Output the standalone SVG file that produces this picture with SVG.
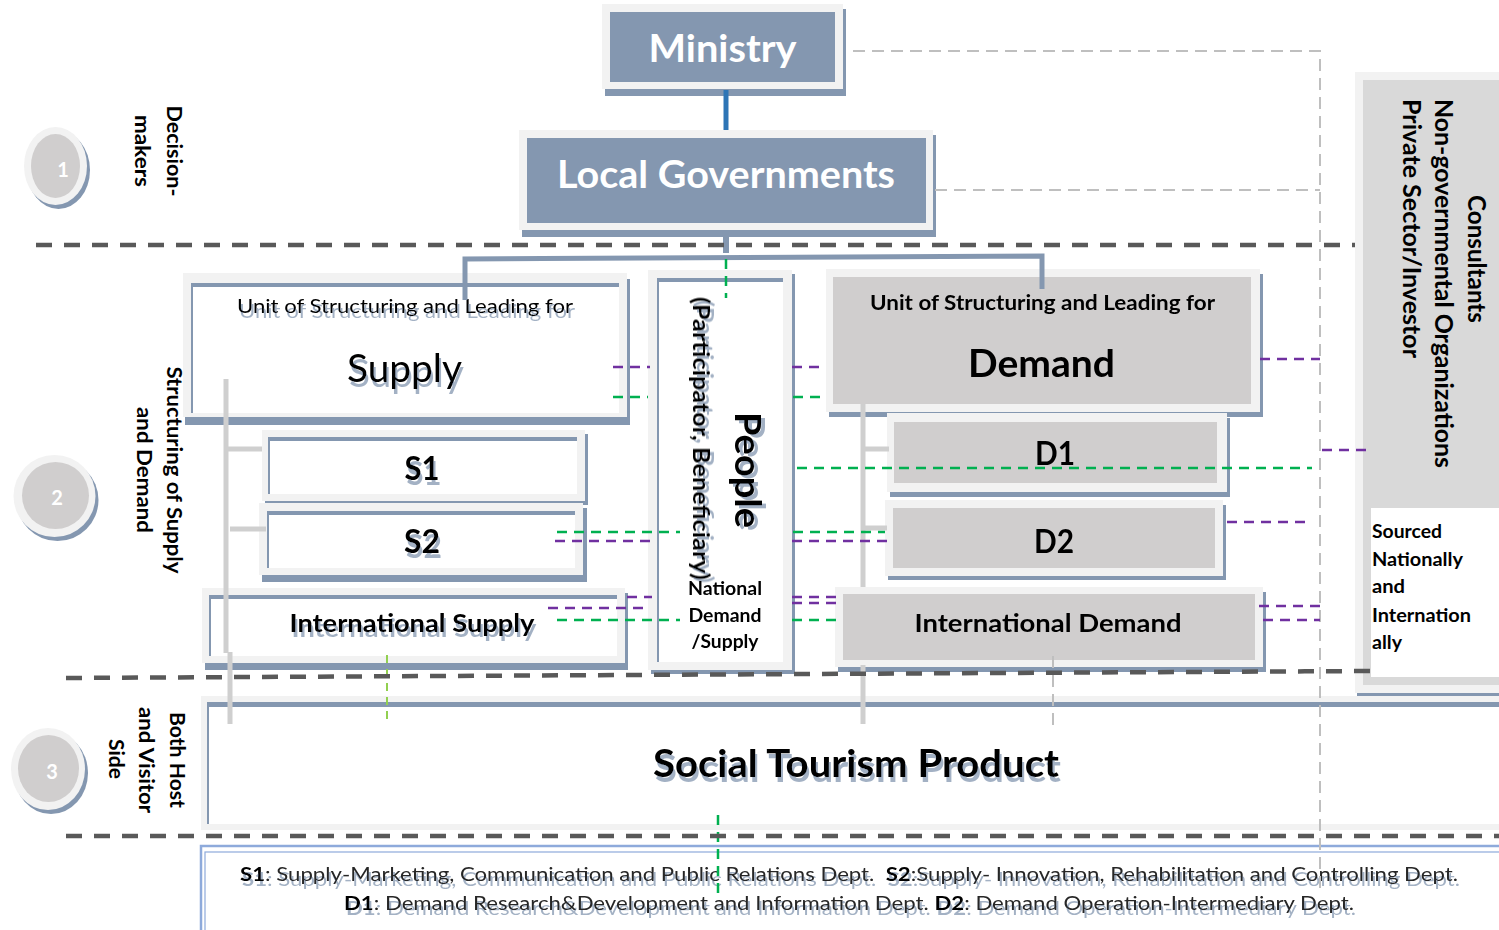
<svg xmlns="http://www.w3.org/2000/svg" width="1499" height="930" viewBox="0 0 1499 930">
<defs>
<style>
text{font-family:Lato,"Liberation Sans",sans-serif;fill:#000}
.b{font-weight:bold}
.c{text-anchor:middle}
.fr{fill:#f2f2f2}
.sd{fill:#8497b0}
.wt{fill:#fff}
.gy{fill:#d0cece}
.sep{stroke:#595959;stroke-width:4.5;stroke-dasharray:16 12;fill:none}
.lgd{stroke:#bfbfbf;stroke-width:2;stroke-dasharray:12 7;fill:none}
.gd{stroke:#00b050;stroke-width:2.5;stroke-dasharray:10 7;fill:none}
.pd{stroke:#7030a0;stroke-width:2.5;stroke-dasharray:10 7;fill:none}
.lgn{stroke:#92d050;stroke-width:2;stroke-dasharray:8 6;fill:none}
.gl{stroke:#cfcfcf;stroke-width:5;fill:none}
.num{fill:#fff;font-weight:bold;font-size:20px;text-anchor:middle}
</style>
<filter id="ts" x="-10%" y="-40%" width="120%" height="200%">
<feDropShadow dx="2" dy="5" stdDeviation="0.7" flood-color="#8497b0" flood-opacity="0.75"/>
</filter>
<filter id="tsr" x="-40%" y="-10%" width="200%" height="120%">
<feDropShadow dx="4" dy="3" stdDeviation="0.7" flood-color="#8497b0" flood-opacity="0.75"/>
</filter>
</defs>
<rect width="1499" height="930" fill="#fff"/>

<!-- side circles and labels -->
<g id="circle1">
<ellipse cx="58.5" cy="170" rx="31.5" ry="39" class="sd"/>
<ellipse cx="55.5" cy="166" rx="31.5" ry="39" class="fr"/>
<ellipse cx="55.5" cy="166" rx="24.5" ry="32" class="gy"/>
<text class="num" x="63" y="177">1</text>
</g>
<g id="label1">
<text class="b c" font-size="21.5" transform="translate(167,151) rotate(90)" textLength="91" lengthAdjust="spacingAndGlyphs">Decision-</text>
<text class="b c" font-size="21.5" transform="translate(135,151) rotate(90)" textLength="72" lengthAdjust="spacingAndGlyphs">makers</text>
</g>
<g id="circle2">
<circle cx="57.5" cy="500" r="41" class="sd"/>
<circle cx="54.5" cy="496" r="41" class="fr"/>
<circle cx="55.5" cy="495.5" r="33.5" class="gy"/>
<text class="num" x="57" y="505">2</text>
</g>
<g id="label2">
<text class="b c" font-size="21.5" transform="translate(167,470) rotate(90)" textLength="207" lengthAdjust="spacingAndGlyphs">Structuring of Supply</text>
<text class="b c" font-size="21.5" transform="translate(137,470) rotate(90)" textLength="126" lengthAdjust="spacingAndGlyphs">and Demand</text>
</g>
<g id="circle3">
<ellipse cx="51" cy="773" rx="37" ry="41" class="sd"/>
<ellipse cx="48" cy="769" rx="37" ry="41" class="fr"/>
<ellipse cx="48.5" cy="768.5" rx="30.5" ry="33.5" class="gy"/>
<text class="num" x="52" y="779">3</text>
</g>
<g id="label3">
<text class="b c" font-size="21.5" transform="translate(170,760) rotate(90)" textLength="96" lengthAdjust="spacingAndGlyphs">Both Host</text>
<text class="b c" font-size="21.5" transform="translate(139,760) rotate(90)" textLength="106" lengthAdjust="spacingAndGlyphs">and Visitor</text>
<text class="b c" font-size="21.5" transform="translate(109,759) rotate(90)" textLength="40" lengthAdjust="spacingAndGlyphs">Side</text>
</g>

<!-- Ministry -->
<g id="ministry">
<rect class="sd" x="605" y="9" width="241" height="87"/>
<rect class="fr" x="602" y="4" width="241" height="85"/>
<rect class="sd" x="610" y="12" width="225" height="70"/>
<text class="b c" x="722.5" y="62" font-size="38" style="fill:#fff" textLength="148" lengthAdjust="spacingAndGlyphs">Ministry</text>
</g>

<!-- Local Governments -->
<g id="local-governments">
<rect class="sd" x="522" y="135" width="414" height="102"/>
<rect class="fr" x="519" y="130" width="414" height="100"/>
<rect class="sd" x="527" y="138" width="399" height="85"/>
<text class="b c" x="726" y="188" font-size="38" style="fill:#fff" textLength="338" lengthAdjust="spacingAndGlyphs">Local Governments</text>
</g>

<!-- Consultants -->
<g id="consultants">
<rect class="sd" x="1357" y="77" width="150" height="620"/>
<rect class="fr" x="1355" y="72" width="150" height="621"/>
<rect x="1363" y="80" width="140" height="605" fill="#d9d9d9"/>
<rect class="wt" x="1371" y="508" width="140" height="169"/>
<text class="b" font-size="24" transform="translate(1468,195) rotate(90)" textLength="128" lengthAdjust="spacingAndGlyphs">Consultants</text>
<text class="b" font-size="24" transform="translate(1435,99) rotate(90)" textLength="369" lengthAdjust="spacingAndGlyphs">Non-governmental Organizations</text>
<text class="b" font-size="24" transform="translate(1403,99) rotate(90)" textLength="259" lengthAdjust="spacingAndGlyphs">Private Sector/Investor</text>
<text class="b" font-size="19" x="1372" y="538" textLength="70" lengthAdjust="spacingAndGlyphs">Sourced</text>
<text class="b" font-size="19" x="1372" y="566" textLength="91" lengthAdjust="spacingAndGlyphs">Nationally</text>
<text class="b" font-size="19" x="1372" y="593" textLength="33" lengthAdjust="spacingAndGlyphs">and</text>
<text class="b" font-size="19" x="1372" y="622" textLength="99" lengthAdjust="spacingAndGlyphs">Internation</text>
<text class="b" font-size="19" x="1372" y="649" textLength="30" lengthAdjust="spacingAndGlyphs">ally</text>
</g>

<!-- Supply unit -->
<g id="supply">
<rect class="sd" x="185" y="279" width="445" height="146"/>
<rect class="fr" x="183" y="273" width="444" height="144"/>
<rect class="sd" x="191" y="283" width="428" height="130"/>
<rect class="wt" x="193" y="287" width="426" height="126"/>
<g filter="url(#ts)">
<text class="c" x="405" y="313" font-size="19.5" textLength="336" lengthAdjust="spacingAndGlyphs">Unit of Structuring and Leading for</text>
<text class="c" x="404.5" y="382" font-size="38" textLength="115" lengthAdjust="spacingAndGlyphs">Supply</text>
</g>
</g>
<g id="s1">
<rect class="sd" x="265" y="434" width="323" height="71"/>
<rect class="fr" x="262" y="430" width="323" height="71"/>
<rect class="sd" x="268" y="437" width="309" height="57"/>
<rect class="wt" x="270" y="441" width="307" height="53"/>
<text class="b c" filter="url(#ts)" x="422" y="480" font-size="32" textLength="35" lengthAdjust="spacingAndGlyphs">S1</text>
</g>
<g id="s2">
<rect class="sd" x="262" y="508" width="325" height="74"/>
<rect class="fr" x="259" y="503" width="324" height="72"/>
<rect class="sd" x="267" y="511" width="308" height="57"/>
<rect class="wt" x="269" y="515" width="306" height="53"/>
<text class="b c" filter="url(#ts)" x="422" y="553" font-size="32" textLength="36" lengthAdjust="spacingAndGlyphs">S2</text>
</g>
<g id="international-supply">
<rect class="sd" x="205" y="593" width="423" height="77"/>
<rect class="fr" x="202" y="588" width="423" height="75"/>
<rect class="sd" x="209" y="595" width="408" height="61"/>
<rect class="wt" x="211" y="599" width="406" height="57"/>
<text class="b c" filter="url(#ts)" x="412" y="632" font-size="25" textLength="245" lengthAdjust="spacingAndGlyphs">International Supply</text>
</g>

<!-- People -->
<g id="people">
<rect class="sd" x="651" y="274" width="144" height="400"/>
<rect class="fr" x="648" y="270" width="144" height="400"/>
<rect class="sd" x="657" y="278" width="126" height="384"/>
<rect class="wt" x="659" y="282" width="124" height="380"/>
<g filter="url(#tsr)">
<text class="b c" font-size="36" transform="translate(735,470) rotate(90)" textLength="116" lengthAdjust="spacingAndGlyphs">People</text>
<text class="b c" font-size="23.5" transform="translate(693,438.5) rotate(90)" textLength="283" lengthAdjust="spacingAndGlyphs">(Participator, Beneficiary)</text>
</g>
<text class="b c" x="725" y="595" font-size="19" textLength="74" lengthAdjust="spacingAndGlyphs">National</text>
<text class="b c" x="725" y="622" font-size="19" textLength="73" lengthAdjust="spacingAndGlyphs">Demand</text>
<text class="b c" x="725" y="648" font-size="19" textLength="67" lengthAdjust="spacingAndGlyphs">/Supply</text>
</g>

<!-- Demand unit -->
<g id="demand">
<rect class="sd" x="829" y="274" width="434" height="143"/>
<rect class="fr" x="826" y="269" width="434" height="143"/>
<rect class="gy" x="833" y="277" width="418" height="127"/>
<text class="b c" x="1042.5" y="310" font-size="20" textLength="345" lengthAdjust="spacingAndGlyphs">Unit of Structuring and Leading for</text>
<text class="b c" x="1041.5" y="377" font-size="38" textLength="147" lengthAdjust="spacingAndGlyphs">Demand</text>
</g>
<g id="d1">
<rect class="sd" x="890" y="418" width="340" height="79"/>
<rect class="fr" x="887" y="413" width="340" height="79"/>
<rect class="gy" x="894" y="422" width="323" height="61"/>
<text class="b c" x="1055" y="465" font-size="32" textLength="40" lengthAdjust="spacingAndGlyphs">D1</text>
</g>
<g id="d2">
<rect class="sd" x="888" y="505" width="338" height="75"/>
<rect class="fr" x="885" y="500" width="338" height="76"/>
<rect class="gy" x="893" y="508" width="322" height="60"/>
<text class="b c" x="1054" y="553" font-size="32" textLength="40" lengthAdjust="spacingAndGlyphs">D2</text>
</g>
<g id="international-demand">
<rect class="sd" x="838" y="592" width="428" height="80"/>
<rect class="fr" x="835" y="587" width="428" height="80"/>
<rect class="gy" x="843" y="594" width="412" height="66"/>
<text class="b c" x="1048" y="632" font-size="25" textLength="267" lengthAdjust="spacingAndGlyphs">International Demand</text>
</g>

<!-- Social Tourism Product -->
<g id="social-tourism-product">
<rect class="fr" x="201" y="696" width="1310" height="134"/>
<rect class="sd" x="207" y="702" width="1305" height="122"/>
<rect class="wt" x="209" y="707" width="1303" height="117"/>
<text class="b c" filter="url(#ts)" x="856" y="777" font-size="38" textLength="406" lengthAdjust="spacingAndGlyphs">Social Tourism Product</text>
</g>

<!-- Legend -->
<g id="legend">
<rect x="201" y="846" width="1310" height="90" fill="#fff" stroke="#8eaadb" stroke-width="2.5"/>
<rect x="205" y="852" width="1300" height="80" fill="none" stroke="#8eaadb" stroke-width="1.2"/>
<g filter="url(#ts)">
<text x="240" y="881" font-size="19.5" textLength="1218" lengthAdjust="spacingAndGlyphs" style="fill:#262626"><tspan font-weight="bold" style="fill:#000">S1</tspan>: Supply-Marketing, Communication and Public Relations Dept.&#160; <tspan font-weight="bold" style="fill:#000">S2</tspan>:Supply- Innovation, Rehabilitation and Controlling Dept.</text>
<text x="344" y="910" font-size="19.5" textLength="1010" lengthAdjust="spacingAndGlyphs" style="fill:#262626"><tspan font-weight="bold" style="fill:#000">D1</tspan>: Demand Research&amp;Development and Information Dept. <tspan font-weight="bold" style="fill:#000">D2</tspan>: Demand Operation-Intermediary Dept.</text>
</g>
</g>

<!-- connectors -->
<g id="connectors">
<path d="M726 90V130" stroke="#2e75b6" stroke-width="5" fill="none"/>
<path d="M726 232V253" stroke="#8497b0" stroke-width="6" fill="none"/>
<path d="M465 300V259L1042 256V289" stroke="#8497b0" stroke-width="5" fill="none"/>
<path class="gd" d="M726 259V298"/>
<path class="gl" d="M226 379V653M230 652V724M226 449H262M230 529H266"/>
<path class="gl" d="M863 404V587M863 665V724M863 449H889M863 528H887"/>
<path class="lgd" d="M853 51H1320V890M935 190H1320M1053 656V725"/>
<path class="pd" d="M613 367H650M792 367H826M555 541H650M792 541H887M627 597H652M548 608H650M792 597H836M792 603H836"/>
<path class="pd" d="M1260 359H1320M1322 450H1370M1227 522H1312M1259 606H1320M1263 620H1320"/>
<path class="gd" d="M613 397H648M793 397H826M797 468H1312M557 532H680M793 532H885M557 620H680M792 620H836M718 815V897"/>
<path class="lgn" d="M387 655V722"/>
</g>

<!-- separators -->
<g id="separators">
<path class="sep" d="M36 245H1355"/>
<path class="sep" d="M66 678L1370 671"/>
<path class="sep" d="M66 836H1499"/>
</g>
</svg>
